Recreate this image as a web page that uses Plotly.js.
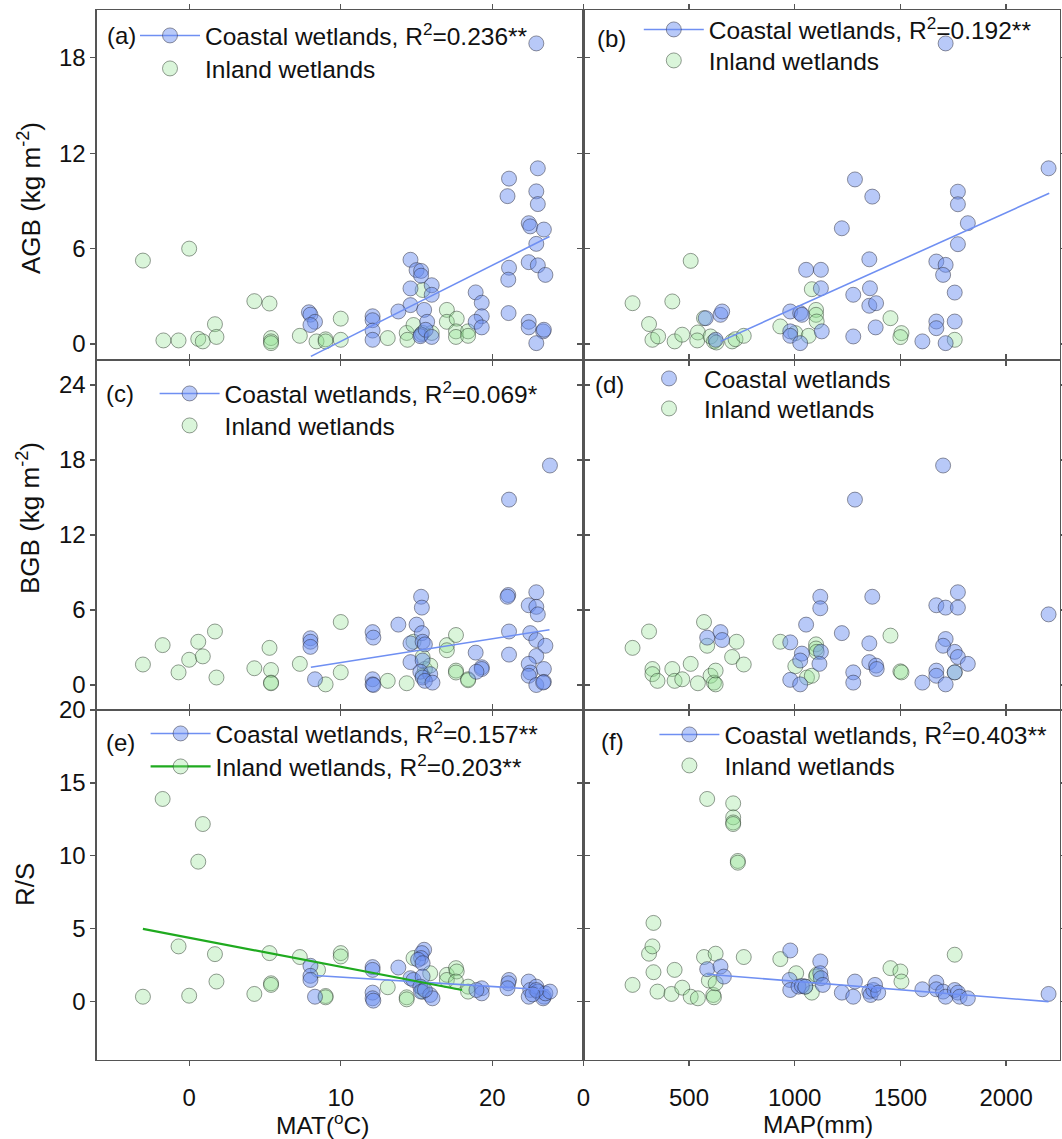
<!DOCTYPE html>
<html><head><meta charset="utf-8">
<script src="https://cdn.plot.ly/plotly-3.0.1.min.js"></script>
<style>html,body{margin:0;padding:0;background:#fff}#chart{width:1062px;height:1139px}</style>
</head><body><div id="chart"></div>
<script>
// ---------- tick labels ----------
const matTicks = [0, 10, 20];
const mapTicks = [0, 500, 1000, 1500, 2000];
const agbTicks = [0, 6, 12, 18];
const bgbTicks = [0, 6, 12, 18, 24];
const rsTicks  = [0, 5, 10, 15, 20];

// ---------- (a) AGB vs MAT ----------
const aCoastX = [22.9,21.1,21.0,23.0,22.9,23.0,22.4,22.5,23.4,22.9,22.4,23.0,23.5,21.1,21.05,21.07,22.4,22.4,23.35,23.4,22.9,18.9,19.3,19.3,18.9,19.3,14.6,15.0,15.3,15.3,14.6,16.0,16.0,14.6,15.5,13.8,15.7,15.3,15.25,15.6,16.0,12.1,12.1,12.1,12.1,7.9,8.0,8.3,8.0];
const aCoastY = [18.9,10.4,9.3,11.05,9.6,8.8,7.6,7.4,7.2,6.3,5.15,4.95,4.35,4.8,4.05,1.95,1.4,1.05,0.8,0.9,0.06,3.25,2.6,1.75,1.4,1.05,5.3,4.65,4.6,4.3,3.5,3.7,3.1,2.45,2.15,2.05,1.4,0.6,0.5,0.9,0.45,1.75,1.5,0.85,0.27,2.0,1.85,1.4,1.2];
const aInlandX = [-3.05,0.0,-1.7,-0.7,0.6,0.9,1.7,1.8,4.3,5.3,5.4,5.4,5.4,7.3,8.4,9.0,9.0,10.0,10.0,13.1,14.35,14.4,14.8,15.4,15.4,16.0,17.0,17.0,17.65,17.6,17.6,18.4,18.4];
const aInlandY = [5.25,6.0,0.23,0.23,0.33,0.17,1.25,0.45,2.7,2.55,0.38,0.17,0.06,0.52,0.17,0.3,0.17,1.6,0.27,0.38,0.7,0.27,1.2,3.4,0.7,0.7,2.15,1.4,1.6,0.8,0.45,0.8,0.52];
const aFitX = [8.03, 23.77];
const aFitY = [-0.77, 6.76];

// ---------- (b) AGB vs MAP ----------
const bCoastX = [1714,2201,1285,1367,1772,1772,1819,1223,1772,1353,1670,1714,1702,1054,1124,1124,1277,1356,1757,1353,1385,979,1026,1034,649,657,579,1670,1670,1757,1383,979,979,1128,1026,1277,1604,1714,626];
const bCoastY = [18.9,11.05,10.35,9.27,9.58,8.79,7.6,7.28,6.28,5.33,5.19,4.98,4.35,4.67,4.67,3.51,3.1,3.51,3.24,2.41,2.57,2.05,1.95,1.84,1.84,2.05,1.63,1.42,1.0,1.42,1.05,0.8,0.52,0.8,0.06,0.48,0.17,0.06,0.27];
const bInlandX = [233,421,508,311,327,354,432,468,542,539,571,602,618,630,704,720,759,932,1003,1066,1081,1101,1101,1104,1453,1505,1500,1757];
const bInlandY = [2.57,2.68,5.23,1.26,0.27,0.48,0.17,0.59,0.73,0.23,1.63,0.48,0.17,0.1,0.17,0.31,0.52,1.11,0.69,0.52,3.45,2.15,1.84,1.42,1.63,0.69,0.44,0.27];
const bFitX = [649, 2204];
const bFitY = [0.17, 9.48];

// ---------- (c) BGB vs MAT ----------
const cCoastX = [23.8,21.1,21.05,21.0,22.9,22.4,22.9,23.0,21.1,22.5,22.9,23.5,21.1,22.9,22.4,22.5,22.4,23.4,22.9,23.4,23.35,18.9,19.3,19.3,18.95,15.3,15.35,15.0,15.35,13.8,14.6,15.4,15.55,14.6,15.4,15.25,15.9,15.4,15.55,16.05,12.1,12.15,12.1,12.1,12.15,8.0,8.0,8.0,8.3];
const cCoastY = [17.56,14.83,7.2,7.06,7.42,6.38,6.25,5.65,4.28,4.15,3.6,3.14,2.43,2.32,1.69,1.0,0.74,1.28,0.0,0.25,0.2,2.59,1.42,1.28,1.06,7.06,6.19,4.83,4.15,4.83,3.33,3.46,3.25,1.83,1.96,1.06,0.87,0.6,0.33,0.19,4.23,3.79,0.46,0.05,0.0,3.74,3.46,3.05,0.46];
const cInlandX = [-3.05,-1.75,-0.7,0.0,0.6,0.9,1.7,1.8,4.3,5.3,5.4,5.4,5.4,7.3,9.0,10.0,10.0,13.1,14.35,14.8,15.4,15.55,15.9,15.4,17.0,17.0,17.6,17.6,17.6,18.4,18.4];
const cInlandY = [1.64,3.19,1.01,2.02,3.46,2.29,4.28,0.6,1.34,2.97,1.2,0.19,0.14,1.69,0.05,5.04,1.01,0.33,0.14,3.46,2.24,1.28,1.55,0.74,3.19,2.78,4.0,1.15,1.0,0.46,0.38];
const cFitX = [8.03, 23.77];
const cFitY = [1.42, 4.42];

// ---------- (d) BGB vs MAP ----------
const dCoastX = [1702,1285,1121,1121,1367,1772,1670,1714,1772,2201,1054,1223,649,657,586,979,1353,1714,1702,1757,1772,1819,1034,1124,1117,1026,1353,1385,1388,1277,1277,979,1026,1604,1670,1670,1714,1757];
const dCoastY = [17.56,14.83,7.06,6.14,7.06,7.42,6.38,6.19,6.19,5.65,4.83,4.15,4.23,3.6,3.79,3.41,3.33,3.68,3.14,2.65,2.24,1.69,2.51,2.65,1.69,1.96,1.83,1.55,1.28,1.01,0.19,0.41,0.05,0.19,1.15,0.74,0.05,1.01];
const dInlandX = [233,311,327,327,351,421,432,468,508,542,571,586,602,618,626,626,704,725,759,932,1003,1058,1081,1101,1101,1104,1453,1500,1505,1757];
const dInlandY = [2.97,4.28,1.28,0.87,0.33,1.28,0.33,0.46,1.69,0.14,5.04,3.14,0.74,0.19,1.15,0.05,2.24,3.46,1.64,3.46,1.5,0.6,0.74,3.25,2.92,2.65,3.95,1.09,1.01,1.01];

// ---------- (e) R/S vs MAT ----------
const eCoastX = [15.5,15.35,15.3,15.1,15.4,13.8,12.1,12.1,8.0,8.0,8.0,8.3,12.1,12.1,12.15,14.6,14.8,15.4,15.25,15.3,15.9,16.05,15.55,19.3,19.3,18.95,21.1,21.05,21.0,22.4,22.5,22.4,22.9,23.0,23.4,23.35,23.5,23.8,22.9,22.65];
const eCoastY = [3.56,3.33,2.99,2.87,2.64,2.34,2.37,2.18,2.46,1.77,1.49,0.34,0.62,0.23,0.07,1.61,1.49,1.72,1.03,0.69,0.46,0.23,0.8,0.92,0.57,0.8,1.49,1.26,0.92,1.38,0.8,0.34,1.03,0.69,0.34,0.23,0.57,0.69,0.8,0.5];
const eInlandX = [-3.05,-1.75,0.9,0.6,-0.7,0.0,1.7,1.8,4.3,5.3,5.4,5.4,7.3,8.5,9.0,9.0,10.0,10.0,13.1,14.35,14.35,14.8,15.4,15.4,15.9,17.0,17.0,17.6,17.65,17.6,18.4,18.4];
const eInlandY = [0.34,13.9,12.18,9.6,3.79,0.41,3.26,1.38,0.53,3.33,1.26,1.15,3.06,2.18,0.39,0.3,3.33,3.1,0.99,0.3,0.16,2.99,0.92,0.69,1.95,1.84,1.49,2.3,2.07,1.38,1.03,0.69];
const eCoastFitX = [8.3, 23.7];
const eCoastFitY = [1.79, 0.80];
const eInlandFitX = [-3.05, 18.0];
const eInlandFitY = [4.99, 0.80];

// ---------- (f) R/S vs MAP ----------
const fCoastX = [979,1121,586,649,665,976,979,1018,1034,1050,1121,1124,1133,1285,1223,1277,1353,1359,1372,1380,1395,1604,1670,1670,1702,1714,1757,1772,1780,1819,2201];
const fCoastY = [3.51,2.76,2.23,2.41,1.72,1.49,0.8,1.03,1.08,1.03,1.95,1.61,1.15,1.38,0.62,0.34,0.69,0.46,0.8,1.15,0.62,0.85,1.31,0.85,0.69,0.34,0.8,0.62,0.34,0.23,0.53];
const fInlandX = [233,311,327,332,332,351,417,432,468,508,542,586,571,594,615,618,626,626,709,709,709,709,731,731,759,932,1007,1050,1081,1101,1104,1453,1500,1505,1757];
const fInlandY = [1.15,3.29,3.79,5.4,2.02,0.69,0.53,2.18,0.96,0.34,0.23,13.9,3.06,1.45,0.46,0.3,3.29,1.26,13.6,12.64,12.29,12.18,9.65,9.53,3.06,2.92,1.95,1.03,0.62,1.72,1.84,2.3,2.07,1.38,3.22];
const fFitX = [586, 2201];
const fFitY = [1.88, 0.0];

// ---------- legend names ----------
const coastName = 'Coastal wetlands';
const inlandName = 'Inland wetlands';
const r2 = {a:'0.236**', b:'0.192**', c:'0.069*', e1:'0.157**', e2:'0.203**', f:'0.403**'};

// ---------- styling ----------
const FONT = '"Liberation Sans", Arial, Helvetica, sans-serif';
const W = 1062, H = 1139;
const px = v => v / W, py = v => 1 - v / H;
const coastMarker = {size: 15, color: 'rgba(106,143,240,0.48)', line: {color: 'rgba(45,45,60,0.5)', width: 1}};
const inlandMarker = {size: 15, color: 'rgba(143,224,143,0.33)', line: {color: 'rgba(45,60,45,0.5)', width: 1}};
const coastLine = {color: '#6f8ff2', width: 1.6};
const inlandLine = {color: '#1faa1f', width: 2.2};

function pts(x, y, marker, xa, ya) {
  return {type: 'scatter', mode: 'markers', x: x, y: y, marker: marker, xaxis: xa, yaxis: ya, showlegend: false, hoverinfo: 'skip', cliponaxis: true};
}
function fit(x, y, line, xa, ya) {
  return {type: 'scatter', mode: 'lines', x: x, y: y, line: line, xaxis: xa, yaxis: ya, showlegend: false, hoverinfo: 'skip'};
}
function leg(name, marker, line, legend, xa, ya) {
  const t = {type: 'scatter', mode: line ? 'lines+markers' : 'markers', x: [null], y: [null], marker: marker, name: name, legend: legend, xaxis: xa, yaxis: ya, showlegend: true, hoverinfo: 'skip'};
  if (line) t.line = line;
  return t;
}
const withR2 = (n, v) => n + ', R<sup>2</sup>=' + v;

const traces = [
  pts(aInlandX, aInlandY, inlandMarker, 'x', 'y'),
  pts(aCoastX, aCoastY, coastMarker, 'x', 'y'),
  fit(aFitX, aFitY, coastLine, 'x', 'y'),
  leg(withR2(coastName, r2.a), coastMarker, coastLine, 'legend', 'x', 'y'),
  leg(inlandName, inlandMarker, null, 'legend7', 'x', 'y'),

  pts(bInlandX, bInlandY, inlandMarker, 'x2', 'y2'),
  pts(bCoastX, bCoastY, coastMarker, 'x2', 'y2'),
  fit(bFitX, bFitY, coastLine, 'x2', 'y2'),
  leg(withR2(coastName, r2.b), coastMarker, coastLine, 'legend2', 'x2', 'y2'),
  leg(inlandName, inlandMarker, null, 'legend8', 'x2', 'y2'),

  pts(cInlandX, cInlandY, inlandMarker, 'x3', 'y3'),
  pts(cCoastX, cCoastY, coastMarker, 'x3', 'y3'),
  fit(cFitX, cFitY, coastLine, 'x3', 'y3'),
  leg(withR2(coastName, r2.c), coastMarker, coastLine, 'legend3', 'x3', 'y3'),
  leg(inlandName, inlandMarker, null, 'legend9', 'x3', 'y3'),

  pts(dInlandX, dInlandY, inlandMarker, 'x4', 'y4'),
  pts(dCoastX, dCoastY, coastMarker, 'x4', 'y4'),
  leg(coastName, coastMarker, null, 'legend4', 'x4', 'y4'),
  leg(inlandName, inlandMarker, null, 'legend10', 'x4', 'y4'),

  pts(eInlandX, eInlandY, inlandMarker, 'x5', 'y5'),
  pts(eCoastX, eCoastY, coastMarker, 'x5', 'y5'),
  fit(eCoastFitX, eCoastFitY, coastLine, 'x5', 'y5'),
  fit(eInlandFitX, eInlandFitY, inlandLine, 'x5', 'y5'),
  leg(withR2(coastName, r2.e1), coastMarker, coastLine, 'legend5', 'x5', 'y5'),
  leg(withR2(inlandName, r2.e2), inlandMarker, inlandLine, 'legend11', 'x5', 'y5'),

  pts(fInlandX, fInlandY, inlandMarker, 'x6', 'y6'),
  pts(fCoastX, fCoastY, coastMarker, 'x6', 'y6'),
  fit(fFitX, fFitY, coastLine, 'x6', 'y6'),
  leg(withR2(coastName, r2.f), coastMarker, coastLine, 'legend6', 'x6', 'y6'),
  leg(inlandName, inlandMarker, null, 'legend12', 'x6', 'y6'),

  // carriers for the bottom tick-label axes
  {type: 'scatter', mode: 'markers', x: [null], y: [null], xaxis: 'x7', yaxis: 'y5', showlegend: false, hoverinfo: 'skip'},
  {type: 'scatter', mode: 'markers', x: [null], y: [null], xaxis: 'x8', yaxis: 'y6', showlegend: false, hoverinfo: 'skip'}
];

const tickFont = {family: FONT, size: 24, color: '#111'};
function ax(extra) {
  return Object.assign({
    showline: true, linecolor: '#555', linewidth: 1.3, mirror: 'ticks',
    ticks: 'outside', ticklen: 5, tickwidth: 1.3, tickcolor: '#555',
    showgrid: false, zeroline: false, tickfont: tickFont, fixedrange: true,
    automargin: false
  }, extra);
}
// axis used only to carry the bottom tick labels a little further from the axis line
function labelAxis(extra) {
  return Object.assign({
    showline: false, mirror: false, ticks: 'outside', ticklen: 16, tickwidth: 1, tickcolor: 'rgba(0,0,0,0)',
    showgrid: false, zeroline: false, tickfont: tickFont, fixedrange: true, automargin: false, side: 'bottom'
  }, extra);
}
const XL = [px(96.7), px(583.3)], XR = [px(583.3), px(1060)];
const R1 = [py(360), py(10)], R2 = [py(710), py(360)], R3 = [py(1060), py(710)];
const matRange = [-6.1, 26], mapRange = [0, 2255];
const agbRange = [-1, 21], bgbRange = [-2, 26], rsRange = [-4, 20];

function legendBox(x, y) {
  return {x: px(x), y: py(y), xanchor: 'left', yanchor: 'top', bgcolor: 'rgba(0,0,0,0)', borderwidth: 0,
    font: {family: FONT, size: 24.5, color: '#111'}, itemwidth: 60, tracegroupgap: 0, itemclick: false, itemdoubleclick: false};
}

function label(text, x, y, opts) {
  return Object.assign({text: text, x: px(x), y: py(y), xref: 'paper', yref: 'paper', showarrow: false,
    xanchor: 'left', yanchor: 'middle', font: {family: FONT, size: 24, color: '#111'}}, opts || {});
}
const yTitleFont = {family: FONT, size: 26, color: '#111'};
const xTitleFont = {family: FONT, size: 24.5, color: '#111'};

const layout = {
  width: W, height: H,
  margin: {l: 0, r: 0, t: 0, b: 0},
  paper_bgcolor: '#fff', plot_bgcolor: 'rgba(0,0,0,0)',
  font: {family: FONT, color: '#111'},
  xaxis:  ax({domain: XL, range: matRange, tickvals: matTicks, showticklabels: false, anchor: 'y'}),
  yaxis:  ax({domain: R1, range: agbRange, tickvals: agbTicks, anchor: 'x'}),
  xaxis2: ax({domain: XR, range: mapRange, tickvals: mapTicks, showticklabels: false, anchor: 'y2'}),
  yaxis2: ax({domain: R1, range: agbRange, tickvals: agbTicks, showticklabels: false, anchor: 'x2'}),
  xaxis3: ax({domain: XL, range: matRange, tickvals: matTicks, showticklabels: false, anchor: 'y3'}),
  yaxis3: ax({domain: R2, range: bgbRange, tickvals: bgbTicks, anchor: 'x3'}),
  xaxis4: ax({domain: XR, range: mapRange, tickvals: mapTicks, showticklabels: false, anchor: 'y4'}),
  yaxis4: ax({domain: R2, range: bgbRange, tickvals: bgbTicks, showticklabels: false, anchor: 'x4'}),
  xaxis5: ax({domain: XL, range: matRange, tickvals: matTicks, showticklabels: false, anchor: 'y5'}),
  yaxis5: ax({domain: R3, range: rsRange, tickvals: rsTicks, anchor: 'x5'}),
  xaxis6: ax({domain: XR, range: mapRange, tickvals: mapTicks, showticklabels: false, anchor: 'y6'}),
  yaxis6: ax({domain: R3, range: rsRange, tickvals: rsTicks, showticklabels: false, anchor: 'x6'}),
  xaxis7: labelAxis({overlaying: 'x5', anchor: 'y5', range: matRange, tickvals: matTicks}),
  xaxis8: labelAxis({overlaying: 'x6', anchor: 'y6', range: mapRange, tickvals: mapTicks}),
  legend:   legendBox(135, 13),
  legend7:  legendBox(135, 46),
  legend2:  legendBox(638.8, 7),
  legend8:  legendBox(638.8, 38),
  legend3:  legendBox(154.6, 371),
  legend9:  legendBox(154.6, 403),
  legend4:  legendBox(634, 356),
  legend10: legendBox(634, 386),
  legend5:  legendBox(145.6, 711),
  legend11: legendBox(145.6, 744),
  legend6:  legendBox(654.4, 712),
  legend12: legendBox(654.4, 743),
  annotations: [
    label('(a)', 105, 35), label('(b)', 595, 38), label('(c)', 104, 393),
    label('(d)', 593, 384), label('(e)', 104, 742), label('(f)', 599, 741),
    label('AGB (kg m<sup>-2</sup>)', 29, 198, {xanchor: 'center', textangle: -90, font: yTitleFont}),
    label('BGB (kg m<sup>-2</sup>)', 28, 518, {xanchor: 'center', textangle: -90, font: yTitleFont}),
    label('R/S', 25, 885, {xanchor: 'center', textangle: -90, font: yTitleFont}),
    label('MAT(<sup>o</sup>C)', 322, 1123, {xanchor: 'center', font: xTitleFont}),
    label('MAP(mm)', 818, 1124, {xanchor: 'center', font: xTitleFont})
  ]
};

Plotly.newPlot('chart', traces, layout, {displayModeBar: false, staticPlot: true});
</script>
</body></html>
